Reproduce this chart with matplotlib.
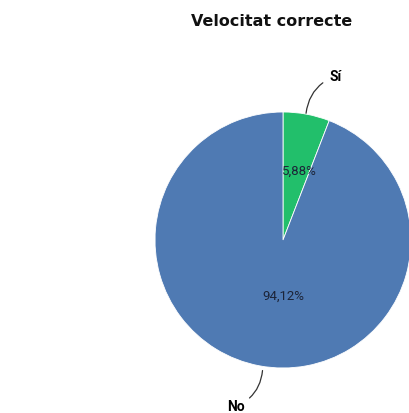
import matplotlib
matplotlib.use("Agg")
import matplotlib.pyplot as plt
import numpy as np

title = "Velocitat correcte"
categories = ["Sí", "No"]
values = [5.88, 94.12]
pct_labels = ["5,88%", "94,12%"]
colors = ["#22BF6B", "#4F7AB3"]

plt.rcParams['font.family'] = ['Roboto', 'DejaVu Sans']

W, H = 410, 414
fig = plt.figure(figsize=(W / 100, H / 100), dpi=100)
fig.patch.set_facecolor("white")

cx, cy, r = 283, 241, 128
ax = fig.add_axes([(cx - r) / W, (H - cy - r) / H, 2 * r / W, 2 * r / H])
wedges, _ = ax.pie(values, colors=colors, startangle=90, counterclock=False,
                   wedgeprops=dict(linewidth=0.6, edgecolor="white"))
ax.set_xlim(-1, 1)
ax.set_ylim(-1, 1)
ax.set_aspect("equal")
ax.axis("off")

# percentage labels
pct_pos = [(0.56, None), (0.43, -90)]
for w, lab, (dist, ang) in zip(wedges, pct_labels, pct_pos):
    a = np.deg2rad(ang if ang is not None else (w.theta1 + w.theta2) / 2 - 3)
    ax.text(dist * np.cos(a), dist * np.sin(a), lab, ha="center", va="center",
            fontsize=9.5, color="#1c2438")

# category labels with leader lines
ax.annotate(categories[0], xy=(0.18, 0.99), xytext=(0.36, 1.28),
            fontsize=10, fontweight="bold", ha="left", va="center",
            annotation_clip=False,
            arrowprops=dict(arrowstyle="-", color="#333333", lw=0.9,
                            shrinkA=3, shrinkB=0,
                            connectionstyle="arc3,rad=0.3"))
ax.annotate(categories[1], xy=(-0.16, -1.02), xytext=(-0.30, -1.30),
            fontsize=10, fontweight="bold", ha="right", va="center",
            annotation_clip=False,
            arrowprops=dict(arrowstyle="-", color="#333333", lw=0.9,
                            shrinkA=2, shrinkB=0,
                            connectionstyle="arc3,rad=0.3"))

fig.text(272 / W, 1 - 22 / H, title, ha="center", va="center",
         fontsize=11.5, fontweight="bold", color="#111111",
         family=["DejaVu Sans"])

fig.savefig("out.png", dpi=100)
